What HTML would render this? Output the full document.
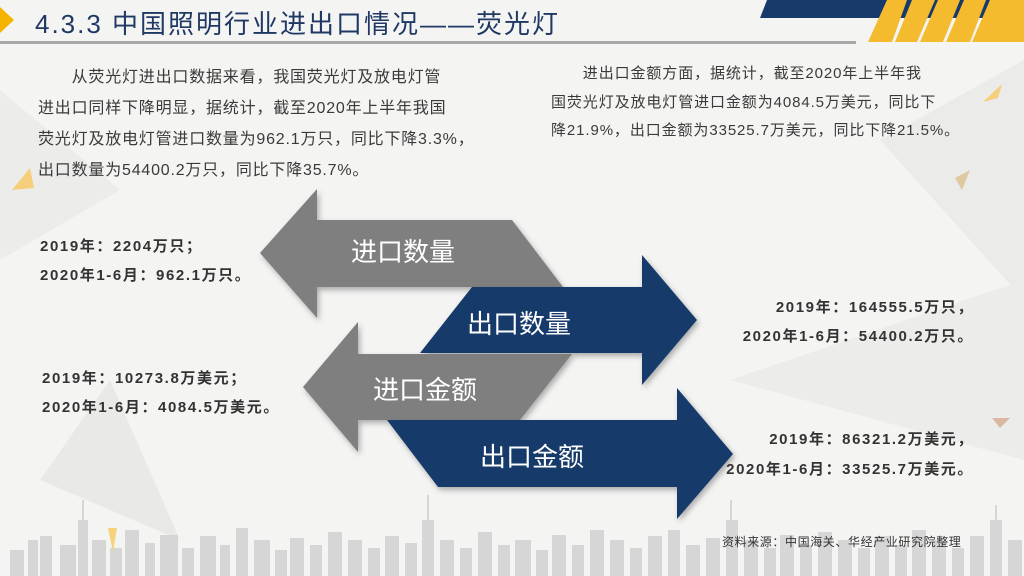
<!DOCTYPE html>
<html><head><meta charset="utf-8"><style>
html,body{margin:0;padding:0;}
body{width:1024px;height:576px;overflow:hidden;background:#f4f4f3;position:relative;font-family:"Liberation Sans","Noto Sans CJK SC",sans-serif;}
svg{position:absolute;left:0;top:0;}
.t{position:absolute;white-space:nowrap;}
.p{color:#3a3a3a;font-size:16px;letter-spacing:0.8px;}
.p2{color:#3a3a3a;font-size:15px;letter-spacing:0.9px;}
.b{font-weight:bold;font-size:15px;letter-spacing:1.6px;color:#333;}
</style></head><body>
<svg width="1024" height="576" viewBox="0 0 1024 576">
<polygon points="0,90 120,190 0,260" fill="#ececeb"/>
<polygon points="880,140 1024,60 1024,300" fill="#ebebea"/>
<polygon points="730,380 1024,280 1024,460" fill="#ececeb"/>
<polygon points="40,480 110,380 180,540" fill="#e9e9e8"/>
<polygon points="12,190 30,168 34,188" fill="#f5cf7a"/>
<polygon points="983,102 1002,84 998,98" fill="#f5cf7a"/>
<polygon points="955,178 970,170 962,190" fill="#e0c8a0"/>
<polygon points="992,418 1010,418 1000,428" fill="#d8b8a0"/>
<polygon points="0,7 14,20 0,33" fill="#f5b400"/>
<rect x="0" y="41" width="856" height="3" fill="#a8a8a8"/>
<polygon points="767,0 1024,0 1024,18 760,18" fill="#173a6b"/>
<polygon points="887,0 907,0 892,42 868,42" fill="#f4bb2e"/>
<polygon points="912,0 935,0 917,42 895,42" fill="#f4bb2e"/>
<polygon points="938,0 960,0 943,42 920,42" fill="#f4bb2e"/>
<polygon points="964,0 986,0 970,42 946,42" fill="#f4bb2e"/>
<polygon points="990,0 1024,0 1024,42 972,42" fill="#f4bb2e"/>
<g fill="#d6d6d6">
<rect x="10" y="550" width="14" height="26"/><rect x="28" y="540" width="10" height="36"/><rect x="40" y="536" width="12" height="40"/>
<rect x="60" y="545" width="16" height="31"/><rect x="78" y="520" width="10" height="56"/><rect x="82" y="500" width="2" height="20"/>
<rect x="92" y="540" width="14" height="36"/><rect x="110" y="548" width="12" height="28"/><rect x="125" y="530" width="14" height="46"/>
<rect x="145" y="543" width="10" height="33"/><rect x="160" y="535" width="18" height="41"/><rect x="182" y="548" width="12" height="28"/>
<rect x="200" y="536" width="16" height="40"/><rect x="220" y="545" width="10" height="31"/><rect x="236" y="528" width="12" height="48"/>
<rect x="254" y="540" width="16" height="36"/><rect x="275" y="550" width="12" height="26"/><rect x="290" y="538" width="14" height="38"/>
<rect x="310" y="545" width="12" height="31"/><rect x="328" y="532" width="14" height="44"/><rect x="348" y="540" width="14" height="36"/>
<rect x="368" y="548" width="12" height="28"/><rect x="385" y="536" width="14" height="40"/><rect x="405" y="543" width="12" height="33"/>
<rect x="422" y="520" width="12" height="56"/><rect x="427" y="495" width="2" height="25"/><rect x="440" y="540" width="14" height="36"/>
<rect x="460" y="548" width="12" height="28"/><rect x="478" y="532" width="14" height="44"/><rect x="498" y="545" width="12" height="31"/>
<rect x="515" y="540" width="16" height="36"/><rect x="536" y="550" width="12" height="26"/><rect x="552" y="535" width="14" height="41"/>
<rect x="572" y="545" width="12" height="31"/><rect x="590" y="530" width="14" height="46"/><rect x="610" y="540" width="14" height="36"/>
<rect x="630" y="548" width="12" height="28"/><rect x="648" y="536" width="14" height="40"/><rect x="668" y="530" width="12" height="46"/>
<rect x="686" y="545" width="14" height="31"/><rect x="706" y="538" width="14" height="38"/><rect x="726" y="520" width="12" height="56"/>
<rect x="730" y="500" width="2" height="20"/><rect x="744" y="540" width="14" height="36"/><rect x="764" y="548" width="12" height="28"/>
<rect x="780" y="535" width="14" height="41"/><rect x="800" y="545" width="12" height="31"/><rect x="818" y="532" width="14" height="44"/>
<rect x="838" y="540" width="14" height="36"/><rect x="858" y="548" width="12" height="28"/><rect x="875" y="536" width="14" height="40"/>
<rect x="895" y="545" width="12" height="31"/><rect x="912" y="530" width="14" height="46"/><rect x="932" y="540" width="14" height="36"/>
<rect x="952" y="548" width="12" height="28"/><rect x="970" y="536" width="14" height="40"/><rect x="990" y="520" width="12" height="56"/>
<rect x="995" y="505" width="2" height="15"/><rect x="1008" y="540" width="14" height="36"/>
</g>
<polygon points="108,528 117,528 113,552" fill="#f5d37a"/>
<defs><filter id="sh" x="-10%" y="-10%" width="130%" height="140%"><feDropShadow dx="2" dy="3" stdDeviation="3" flood-color="#000" flood-opacity="0.3"/></filter></defs>
<polygon filter="url(#sh)" points="260,253 317,189 317,220 512,220 563,287 317,287 317,318" fill="#7f7f7f"/>
<polygon filter="url(#sh)" points="472,287 642,287 642,255 697,320 642,385 642,353 420,353" fill="#173a6b"/>
<polygon filter="url(#sh)" points="303,387 358,322 358,354 572,354 520,420 358,420 358,452" fill="#7f7f7f"/>
<polygon filter="url(#sh)" points="387,420 677,420 677,388 733,454 677,519 677,487 438,487" fill="#173a6b"/>
<g fill="#fff" font-size="26" font-family="Liberation Sans, Noto Sans CJK SC, sans-serif">
<text x="351" y="261">进口数量</text>
<text x="467" y="333">出口数量</text>
<text x="373" y="399">进口金额</text>
<text x="480" y="466">出口金额</text>
</g>
</svg>
<div class="t" style="left:35px;top:4px;font-size:26px;letter-spacing:2px;color:#1f3864;">4.3.3 中国照明行业进出口情况——荧光灯</div>
<div class="t p" style="left:38px;top:62px;line-height:31px;">&emsp;&emsp;从荧光灯进出口数据来看，我国荧光灯及放电灯管<br>进出口同样下降明显，据统计，截至2020年上半年我国<br>荧光灯及放电灯管进口数量为962.1万只，同比下降3.3%，<br>出口数量为54400.2万只，同比下降35.7%。</div>
<div class="t p2" style="left:551px;top:60px;line-height:28.5px;">&emsp;&emsp;进出口金额方面，据统计，截至2020年上半年我<br>国荧光灯及放电灯管进口金额为4084.5万美元，同比下<br>降21.9%，出口金额为33525.7万美元，同比下降21.5%。</div>
<div class="t b" style="left:40px;top:232px;line-height:29px;">2019年：2204万只；<br>2020年1-6月：962.1万只。</div>
<div class="t b" style="right:50px;top:293px;line-height:29px;text-align:right;">2019年：164555.5万只，<br>2020年1-6月：54400.2万只。</div>
<div class="t b" style="left:42px;top:364px;line-height:29px;">2019年：10273.8万美元；<br>2020年1-6月：4084.5万美元。</div>
<div class="t b" style="right:50px;top:425px;line-height:30px;text-align:right;">2019年：86321.2万美元，<br>2020年1-6月：33525.7万美元。</div>
<div class="t" style="left:722px;top:533px;font-size:12px;letter-spacing:0.6px;color:#333;">资料来源：中国海关、华经产业研究院整理</div>
</body></html>
